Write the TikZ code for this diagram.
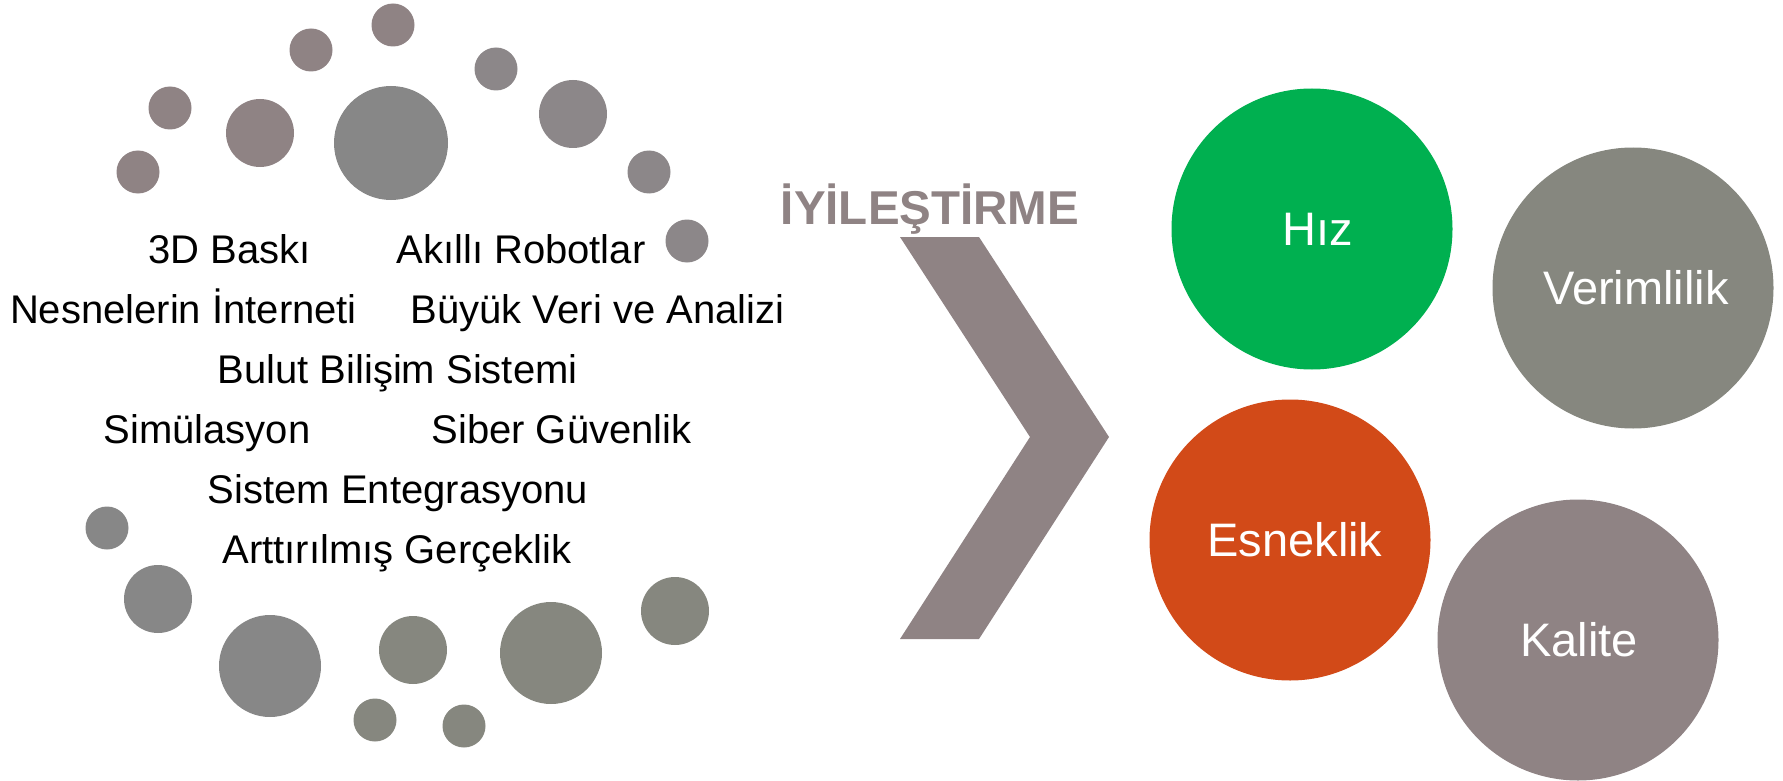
\documentclass[tikz,border=0pt]{standalone}
\usepackage{fontspec}
\setmainfont{Liberation Sans}
\definecolor{mauve}{HTML}{8F8384}
\definecolor{midgrey}{HTML}{878787}
\definecolor{lilacgrey}{HTML}{8C8789}
\definecolor{olivegrey}{HTML}{86877F}
\definecolor{hizgreen}{HTML}{00B050}
\definecolor{rust}{HTML}{D24A18}
\tikzset{
  dot/.style={circle, inner sep=0pt, draw=none, minimum size=#1},
  item/.style={anchor=base, font=\fontsize{40}{48}\selectfont, inner sep=0pt},
  bigdot/.style={circle, inner sep=0pt, minimum size=281pt},
  biglabel/.style={inner sep=0pt, text=white, font=\fontsize{47}{56}\selectfont,
    text height=33pt, text depth=0pt},
}
\begin{document}
\begin{tikzpicture}[x=1pt,y=-1pt]
\useasboundingbox (0,0) rectangle (1783,781);
% upper arc of dots
\node[dot=43pt, fill=mauve] (u1) at (138,172) {};
\node[dot=43pt, fill=mauve] (u2) at (170,108) {};
\node[dot=68pt, fill=mauve] (u3) at (260,133) {};
\node[dot=43pt, fill=mauve] (u4) at (311,50) {};
\node[dot=43pt, fill=mauve] (u5) at (393,25) {};
\node[dot=114pt, fill=midgrey] (u6) at (391,143) {};
\node[dot=43pt, fill=lilacgrey] (u7) at (496,69) {};
\node[dot=68pt, fill=lilacgrey] (u8) at (573,114) {};
\node[dot=43pt, fill=lilacgrey] (u9) at (649,172) {};
\node[dot=43pt, fill=lilacgrey] (u10) at (687,241) {};
% lower arc of dots
\node[dot=43pt, fill=midgrey] (l1) at (107,528) {};
\node[dot=68pt, fill=midgrey] (l2) at (158,599) {};
\node[dot=102pt, fill=midgrey] (l3) at (270,666) {};
\node[dot=68pt, fill=olivegrey] (l4) at (413,650) {};
\node[dot=43pt, fill=olivegrey] (l5) at (375,720) {};
\node[dot=43pt, fill=olivegrey] (l6) at (464,726) {};
\node[dot=102pt, fill=olivegrey] (l7) at (551,653) {};
\node[dot=68pt, fill=olivegrey] (l8) at (675,611) {};
% technologies
\node[item] (t1) at (229.5,263) {3D Baskı};
\node[item] (t2) at (521,263) {Akıllı Robotlar};
\node[item] (t3) at (183.5,323) {Nesnelerin İnterneti};
\node[item] (t4) at (597.5,323) {Büyük Veri ve Analizi};
\node[item] (t5) at (397.5,383) {Bulut Bilişim Sistemi};
\node[item] (t6) at (207,443) {Simülasyon};
\node[item] (t7) at (561.5,443) {Siber Güvenlik};
\node[item] (t8) at (398,503) {Sistem Entegrasyonu};
\node[item] (t9) at (397,563) {Arttırılmış Gerçeklik};
% chevron and heading
\node[anchor=base, inner sep=0pt, text=mauve, font=\bfseries\fontsize{47.5}{57}\selectfont] (title) at (930,224) {İYİLEŞTİRME};
\fill[mauve] (900,237) -- (979,237) -- (1109,437) -- (979,639) -- (900,639) -- (1030,437) -- cycle;
% outcomes
\node[bigdot, fill=hizgreen] (hiz) at (1312,229) {};
\node[bigdot, fill=olivegrey] (ver) at (1633,288) {};
\node[bigdot, fill=rust] (esn) at (1290,540) {};
\node[bigdot, fill=mauve] (kal) at (1578,640) {};
\node[biglabel] (hizt) at ([xshift=6pt]hiz.center) {Hız};
\node[biglabel] (vert) at ([xshift=3pt]ver.center) {Verimlilik};
\node[biglabel] (esnt) at ([xshift=5pt]esn.center) {Esneklik};
\node[biglabel] (kalt) at ([xshift=1pt]kal.center) {Kalite};
\end{tikzpicture}
\end{document}
